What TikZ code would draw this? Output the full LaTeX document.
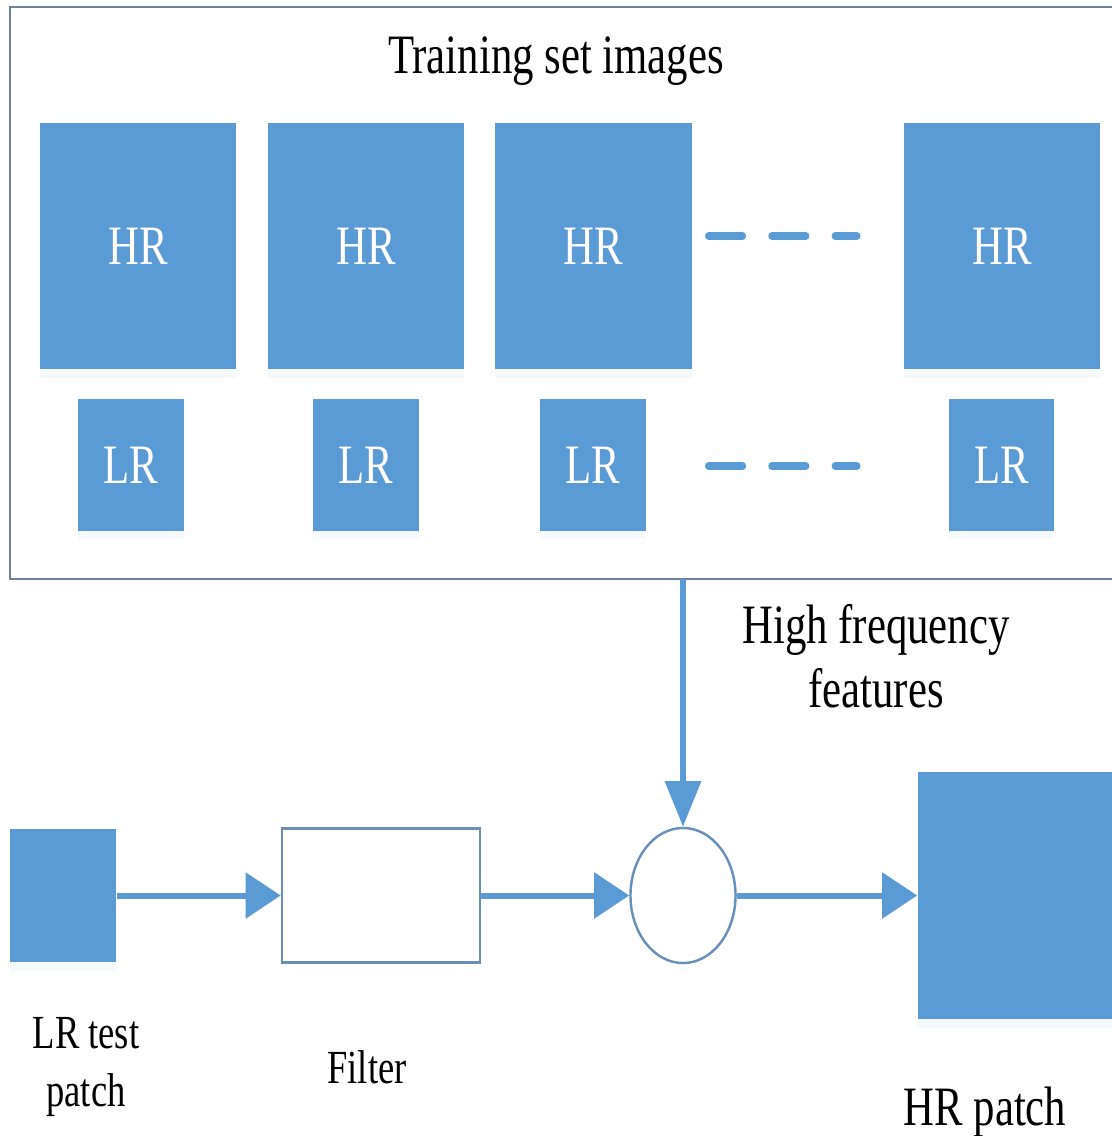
\documentclass[tikz,border=0pt]{standalone}
\usepackage{fontspec}
\setmainfont[FakeStretch=0.77]{Liberation Serif}
\usetikzlibrary{arrows.meta,shadows,shapes.geometric}
\definecolor{boxblue}{HTML}{5B9BD5}
\definecolor{framegray}{HTML}{6E8296}
\definecolor{edgeblue}{HTML}{6A8FBA}

\begin{document}
\begin{tikzpicture}[x=0.01cm,y=-0.01cm,
        img/.style={fill=boxblue, text=white, inner sep=0pt,
            drop shadow={shadow xshift=0pt, shadow yshift=-2.5pt, fill=boxblue!12, opacity=0.5}},
        hrbox/.style={img, big, minimum width=1.96cm, minimum height=2.46cm},
        lrbox/.style={img, big, minimum width=1.05cm, minimum height=1.31cm},
        big/.style={font=\fontsize{15.8}{18}\selectfont},
        small/.style={font=\fontsize{13.5}{16.5}\selectfont},
        flow/.style={draw=boxblue, line width=1.7pt, -{Triangle[length=10pt,width=12.8pt]}},
        gap/.style={draw=boxblue, line width=2pt, line cap=round, dash pattern=on 9.7pt off 8.3pt}]
        \useasboundingbox (0,0) rectangle (1111,1136);

        % training set
        \draw[framegray, line width=0.8pt] (10,7) rectangle (1160,579);
        \node[big, anchor=base] (title) at (556,73) {Training set images};

        \node[hrbox] (hr1) at (138,246) {HR};
        \node[hrbox] (hr2) at (366,246) {HR};
        \node[hrbox] (hr3) at (593.5,246) {HR};
        \node[hrbox] (hr4) at (1002,246) {HR};

        \node[lrbox] (lr1) at (131,465) {LR};
        \node[lrbox] (lr2) at (366,465) {LR};
        \node[lrbox] (lr3) at (593,465) {LR};
        \node[lrbox] (lr4) at (1001.5,465) {LR};

        \draw[gap] (708.5,236)--(857,236);
        \draw[gap] (708.5,466)--(857,466);

        % reconstruction
        \coordinate (feat) at (683,579);
        \node[big, align=center, anchor=north, inner sep=0pt] (hf) at (876,604) {High frequency\\features};

        \node[img, minimum width=1.06cm, minimum height=1.33cm] (test) at (63,895.5) {};
        \node[draw=edgeblue, line width=0.7pt, minimum width=1.98cm, minimum height=1.34cm, inner sep=0pt] (filter) at (381,895.5) {};
        \node[draw=edgeblue, line width=0.7pt, ellipse, minimum width=1.05cm, minimum height=1.35cm, inner sep=0pt] (sum) at (683,895.5) {};
        \node[img, minimum width=2.2cm, minimum height=2.47cm] (out) at (1028,895.5) {};

        \draw[flow] (test)--(filter);
        \draw[flow] (filter)--(sum);
        \draw[flow] (sum)--(out);
        \draw[draw=boxblue, line width=1.7pt, -{Triangle[length=13pt,width=10pt]}] (feat)--(sum.north);

        \node[small, align=center, anchor=north, inner sep=0pt] (testlbl) at (86,1017) {LR test\\patch};
        \node[small, anchor=base] (filterlbl) at (367,1083) {Filter};
        \node[big, anchor=base] (outlbl) at (985,1125) {HR patch};
    \end{tikzpicture}
\end{document}
